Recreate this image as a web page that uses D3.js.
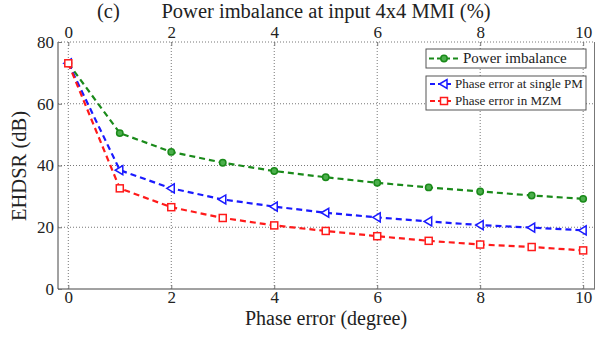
<!DOCTYPE html>
<html>
<head>
<meta charset="utf-8">
<script src="https://cdn.jsdelivr.net/npm/d3@7"></script>
<style>
  body { margin: 0; background: #fff; }
</style>
</head>
<body>
<div class="chart"></div>
<script>
// data
const phaseError = [0, 1, 2, 3, 4, 5, 6, 7, 8, 9, 10];
const powerImbalance = [73.1, 50.5, 44.4, 40.9, 38.2, 36.2, 34.4, 32.9, 31.6, 30.3, 29.2];
const phaseSinglePM = [73.1, 38.5, 32.6, 29.0, 26.7, 24.7, 23.2, 21.9, 20.7, 19.9, 19.0];
const phaseMZM = [73.1, 32.6, 26.5, 23.0, 20.6, 18.8, 17.1, 15.6, 14.4, 13.6, 12.5];
const xTicks = [0, 2, 4, 6, 8, 10];
const yTicks = [0, 20, 40, 60, 80];

const W = 596, H = 339;
const plot = {left: 58, right: 595, top: 42, bottom: 289};
const serif = '"Liberation Serif", "Times New Roman", serif';

let svg = d3.select('.chart').append('svg')
    .attr('width', W)
    .attr('height', H)
    .style('font-family', serif);

const x = d3.scaleLinear()
    .domain([-0.2, 10.23])
    .range([plot.left, plot.right]);

const y = d3.scaleLinear()
    .domain([0, 80])
    .range([plot.bottom, plot.top]);

// grid
svg.append('g')
    .selectAll('line')
    .data(xTicks)
    .join('line')
    .attr('x1', d => x(d)).attr('x2', d => x(d))
    .attr('y1', plot.top).attr('y2', plot.bottom)
    .attr('stroke', '#777')
    .attr('stroke-width', 1)
    .attr('stroke-dasharray', '1,2');

svg.append('g')
    .selectAll('line')
    .data(yTicks.filter(d => d > 0))
    .join('line')
    .attr('x1', plot.left).attr('x2', plot.right)
    .attr('y1', d => y(d)).attr('y2', d => y(d))
    .attr('stroke', '#777')
    .attr('stroke-width', 1)
    .attr('stroke-dasharray', '1,2');

// frame lines (left, bottom, right solid)
svg.append('line')
    .attr('x1', plot.left).attr('x2', plot.left)
    .attr('y1', plot.top).attr('y2', plot.bottom)
    .attr('stroke', '#444');
svg.append('line')
    .attr('x1', plot.left).attr('x2', plot.right)
    .attr('y1', plot.bottom).attr('y2', plot.bottom)
    .attr('stroke', '#444');
svg.append('line')
    .attr('x1', plot.right - 0.5).attr('x2', plot.right - 0.5)
    .attr('y1', plot.top).attr('y2', plot.bottom)
    .attr('stroke', '#777');

// axes
const bottomAxis = d3.axisBottom(x).tickValues(xTicks).tickSize(-4).tickPadding(2);
let X = svg.append('g')
    .attr('transform', `translate(0, ${plot.bottom})`)
    .call(bottomAxis);
X.select('.domain').remove();

const topAxis = d3.axisTop(x).tickValues(xTicks).tickSize(-4).tickPadding(4);
let T = svg.append('g')
    .attr('transform', `translate(0, ${plot.top})`)
    .call(topAxis);
T.select('.domain').remove();

const leftAxis = d3.axisLeft(y).tickValues(yTicks).tickSize(-4).tickPadding(4);
let Y = svg.append('g')
    .attr('transform', `translate(${plot.left}, 0)`)
    .call(leftAxis);
Y.select('.domain').remove();

svg.selectAll('g').attr('font-family', null).attr('font-size', null);
svg.selectAll('.tick line').attr('stroke', '#777');
svg.selectAll('.tick text')
    .style('font-size', '17px')
    .style('font-family', serif)
    .attr('fill', '#222');

function label(t, size) {
    return svg.append('text')
        .style('font-family', serif)
        .style('font-size', size + 'px')
        .attr('fill', '#222')
        .text(t);
}

// titles
label('(c)', 20.5)
    .attr('x', 97)
    .attr('y', 18);

label('Power imbalance at input 4x4 MMI (%)', 20.5)
    .attr('x', 326)
    .attr('y', 18)
    .attr('text-anchor', 'middle');

label('Phase error (degree)', 20)
    .attr('x', 326)
    .attr('y', 325)
    .attr('text-anchor', 'middle');

label('EHDSR (dB)', 20.5)
    .attr('transform', 'translate(26, 166) rotate(-90)')
    .attr('text-anchor', 'middle');

// series
const series = [
    {name: 'Power imbalance', values: powerImbalance, color: '#1a8a1a', marker: 'circle'},
    {name: 'Phase error at single PM', values: phaseSinglePM, color: '#1a1aff', marker: 'triangle'},
    {name: 'Phase error in MZM', values: phaseMZM, color: '#ff1a1a', marker: 'square'}
];

const line = d3.line()
    .x((d, i) => x(phaseError[i]))
    .y(d => y(d));

function drawMarker(g, s, cx, cy) {
    if (s.marker === 'circle') {
        g.append('circle')
            .attr('cx', cx).attr('cy', cy).attr('r', 3.2)
            .attr('fill', '#4caf4c')
            .attr('stroke', s.color).attr('stroke-width', 1.5);
    } else if (s.marker === 'square') {
        g.append('rect')
            .attr('x', cx - 3.5).attr('y', cy - 3.5)
            .attr('width', 7).attr('height', 7)
            .attr('fill', '#fff')
            .attr('stroke', s.color).attr('stroke-width', 1.5);
    } else {
        g.append('path')
            .attr('d', `M${cx - 4.5},${cy} L${cx + 3},${cy - 4.5} L${cx + 3},${cy + 4.5} Z`)
            .attr('fill', '#fff')
            .attr('stroke', s.color).attr('stroke-width', 1.5);
    }
}

series.forEach(s => {
    svg.append('path')
        .datum(s.values)
        .attr('d', line)
        .attr('fill', 'none')
        .attr('stroke', s.color)
        .attr('stroke-width', 2.2)
        .attr('stroke-dasharray', '6,4');
    let g = svg.append('g');
    s.values.forEach((v, i) => drawMarker(g, s, x(phaseError[i]), y(v)));
});

// legends
const legendBoxes = [
    {x: 426, y: 49, w: 160, h: 19, x1: 3, x2: 32, tx: 37, fs: 15, items: [series[0]]},
    {x: 426, y: 76, w: 160, h: 34, x1: 4, x2: 26, tx: 29, fs: 13, items: [series[1], series[2]]}
];

legendBoxes.forEach(b => {
    svg.append('rect')
        .attr('x', b.x).attr('y', b.y)
        .attr('width', b.w).attr('height', b.h)
        .attr('fill', '#fff')
        .attr('stroke', '#555')
        .attr('stroke-width', 1);
    b.items.forEach((s, i) => {
        const cy = b.y + (b.items.length > 1 ? 8 + i * 17 : 9.5);
        svg.append('line')
            .attr('x1', b.x + b.x1).attr('x2', b.x + b.x2)
            .attr('y1', cy).attr('y2', cy)
            .attr('stroke', s.color)
            .attr('stroke-width', 2)
            .attr('stroke-dasharray', '5,3');
        drawMarker(svg, s, b.x + 18, cy);
        label(s.name, b.fs)
            .attr('x', b.x + b.tx)
            .attr('y', cy + b.fs * 0.33);
    });
});
</script>
</body>
</html>
